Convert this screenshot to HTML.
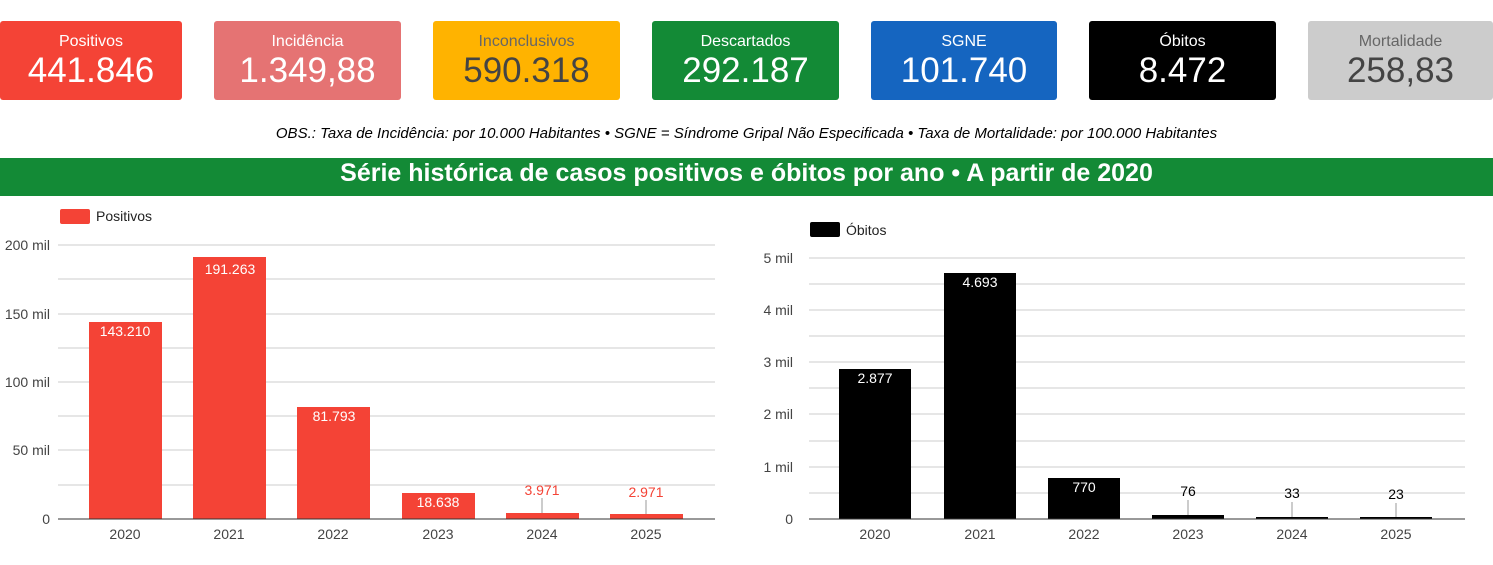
<!DOCTYPE html>
<html><head><meta charset="utf-8"><style>
body{margin:0;width:1493px;height:565px;background:#fff;font-family:"Liberation Sans",sans-serif;position:relative;overflow:hidden}
.c{position:absolute;top:21px;height:79px;border-radius:3px;text-align:center;color:#fff}
.c .l{font-size:16px;margin-top:12px}
.c .v{font-size:35px;line-height:39px}
.obs{position:absolute;top:125px;left:0;width:1493px;text-align:center;font-size:15px;font-style:italic;color:#000}
.hd{position:absolute;top:158px;left:0;width:1493px;height:38px;background:#138a36;color:#fff;font-weight:bold;font-size:25px;text-align:center;line-height:30px}
</style></head><body>
<div class="c" style="left:0;width:182px;background:#f44336"><div class="l">Positivos</div><div class="v">441.846</div></div>
<div class="c" style="left:214px;width:187px;background:#e57373"><div class="l">Incidência</div><div class="v">1.349,88</div></div>
<div class="c" style="left:433px;width:187px;background:#ffb300;color:#444"><div class="l" style="color:#666">Inconclusivos</div><div class="v">590.318</div></div>
<div class="c" style="left:652px;width:187px;background:#138a36"><div class="l">Descartados</div><div class="v">292.187</div></div>
<div class="c" style="left:871px;width:186px;background:#1565c0"><div class="l">SGNE</div><div class="v">101.740</div></div>
<div class="c" style="left:1089px;width:187px;background:#000"><div class="l">Óbitos</div><div class="v">8.472</div></div>
<div class="c" style="left:1308px;width:185px;background:#cccccc;color:#444"><div class="l" style="color:#666">Mortalidade</div><div class="v">258,83</div></div>
<div class="obs">OBS.: Taxa de Incidência: por 10.000 Habitantes • SGNE = Síndrome Gripal Não Especificada • Taxa de Mortalidade: por 100.000 Habitantes</div>
<div class="hd">Série histórica de casos positivos e óbitos por ano • A partir de 2020</div>
<svg width="1493" height="565" style="position:absolute;left:0;top:0" font-family="Liberation Sans, sans-serif" font-size="14">
<g stroke="#ccc" stroke-width="1">
<line x1="58" x2="715" y1="245" y2="245"/><line x1="58" x2="715" y1="279" y2="279"/><line x1="58" x2="715" y1="314" y2="314"/><line x1="58" x2="715" y1="348" y2="348"/><line x1="58" x2="715" y1="382" y2="382"/><line x1="58" x2="715" y1="416" y2="416"/><line x1="58" x2="715" y1="450" y2="450"/><line x1="58" x2="715" y1="485" y2="485"/>
<line x1="809" x2="1465" y1="258" y2="258"/><line x1="809" x2="1465" y1="284" y2="284"/><line x1="809" x2="1465" y1="310" y2="310"/><line x1="809" x2="1465" y1="336" y2="336"/><line x1="809" x2="1465" y1="362" y2="362"/><line x1="809" x2="1465" y1="388" y2="388"/><line x1="809" x2="1465" y1="414" y2="414"/><line x1="809" x2="1465" y1="441" y2="441"/><line x1="809" x2="1465" y1="467" y2="467"/><line x1="809" x2="1465" y1="493" y2="493"/>
</g>
<rect x="60" y="209" width="30" height="15" rx="2" fill="#f44336"/><text x="96" y="221" fill="#222" font-size="14">Positivos</text>
<g fill="#444" text-anchor="end"><text x="50" y="250">200 mil</text><text x="50" y="319">150 mil</text><text x="50" y="387">100 mil</text><text x="50" y="455">50 mil</text><text x="50" y="524">0</text></g>
<g fill="#f44336">
<rect x="89" y="322" width="73" height="197"/><rect x="193" y="257" width="73" height="262"/><rect x="297" y="407" width="73" height="112"/><rect x="402" y="493" width="73" height="26"/><rect x="506" y="513" width="73" height="6"/><rect x="610" y="514" width="73" height="5"/>
</g>
<g fill="#fff" text-anchor="middle"><text x="125" y="336">143.210</text><text x="230" y="274">191.263</text><text x="334" y="421">81.793</text><text x="438" y="507">18.638</text></g>
<g fill="#f44336" text-anchor="middle"><text x="542" y="495">3.971</text><text x="646" y="497">2.971</text></g>
<g stroke="#999"><line x1="542" x2="542" y1="498" y2="513"/><line x1="646" x2="646" y1="500" y2="514"/></g>
<line x1="58" x2="715" y1="519" y2="519" stroke="#333"/>
<g fill="#444" text-anchor="middle"><text x="125" y="539">2020</text><text x="229" y="539">2021</text><text x="333" y="539">2022</text><text x="438" y="539">2023</text><text x="542" y="539">2024</text><text x="646" y="539">2025</text></g>

<rect x="810" y="222" width="30" height="15" rx="2" fill="#000"/><text x="846" y="235" fill="#222">Óbitos</text>
<g fill="#444" text-anchor="end"><text x="793" y="263">5 mil</text><text x="793" y="315">4 mil</text><text x="793" y="367">3 mil</text><text x="793" y="419">2 mil</text><text x="793" y="472">1 mil</text><text x="793" y="524">0</text></g>
<g fill="#000">
<rect x="839" y="369" width="72" height="150"/><rect x="944" y="273" width="72" height="246"/><rect x="1048" y="478" width="72" height="41"/><rect x="1152" y="515" width="72" height="4"/><rect x="1256" y="517" width="72" height="2"/><rect x="1360" y="517" width="72" height="2"/>
</g>
<g fill="#fff" text-anchor="middle"><text x="875" y="383">2.877</text><text x="980" y="287">4.693</text><text x="1084" y="492">770</text></g>
<g fill="#000" text-anchor="middle"><text x="1188" y="496">76</text><text x="1292" y="498">33</text><text x="1396" y="499">23</text></g>
<g stroke="#999"><line x1="1188" x2="1188" y1="500" y2="515"/><line x1="1292" x2="1292" y1="502" y2="517"/><line x1="1396" x2="1396" y1="503" y2="517"/></g>
<line x1="809" x2="1465" y1="519" y2="519" stroke="#333"/>
<g fill="#444" text-anchor="middle"><text x="875" y="539">2020</text><text x="980" y="539">2021</text><text x="1084" y="539">2022</text><text x="1188" y="539">2023</text><text x="1292" y="539">2024</text><text x="1396" y="539">2025</text></g>
</svg>
</body></html>
